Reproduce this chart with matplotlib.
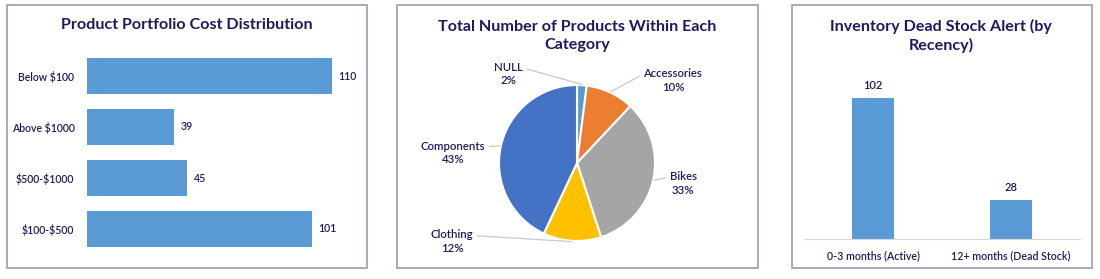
import matplotlib.pyplot as plt
from matplotlib.patches import Rectangle
import numpy as np

plt.rcParams['font.family'] = ['Lato', 'DejaVu Sans']
plt.rcParams['text.parse_math'] = False

# --- data ---
cost_bands = ["Below $100", "Above $1000", "$500-$1000", "$100-$500"]
cost_counts = [110, 39, 45, 101]

categories = ["NULL", "Accessories", "Bikes", "Clothing", "Components"]
category_share = [2, 10, 33, 12, 43]

recency = ["0-3 months (Active)", "12+ months (Dead Stock)"]
recency_counts = [102, 28]

NAVY = "#1b1b5e"
BLUE = "#5b9bd5"
pie_colors = ["#5b9bd5", "#ed7d31", "#a5a5a5", "#ffc000", "#4472c4"]
LBL = dict(color=NAVY, fontweight="semibold")

W, H = 1100, 279
fig = plt.figure(figsize=(W / 100, H / 100), dpi=100)


def px_axes(x0, y0, x1, y1):
    # pixel box (top-left origin) -> figure axes
    return fig.add_axes([x0 / W, 1 - y1 / H, (x1 - x0) / W, (y1 - y0) / H])


def panel_box(x0, y0, x1, y1):
    fig.patches.append(Rectangle((x0 / W, 1 - y1 / H), (x1 - x0) / W, (y1 - y0) / H,
                                 transform=fig.transFigure, fill=False,
                                 edgecolor="#a3a3b8", linewidth=1.3))


def title(xc, yc, s):
    fig.text(xc / W, 1 - yc / H, s, ha="center", va="center", fontsize=11.6,
             fontweight="bold", color=NAVY, linespacing=1.3)


panel_box(7, 5, 367, 268)
panel_box(397, 5, 758, 268)
panel_box(792, 5, 1092, 268)

# --- panel 1: horizontal bars ---
ax1 = px_axes(87, 50.5, 354, 254.5)
y = np.arange(len(cost_bands))
bars = ax1.barh(y, cost_counts, height=0.7, color=BLUE)
ax1.set_xlim(0, 120)
ax1.set_ylim(len(cost_bands) - 0.5, -0.5)
ax1.set_yticks(y)
ax1.set_yticklabels(cost_bands, fontsize=7.6, **LBL)
ax1.tick_params(axis="y", length=0, pad=9)
ax1.set_xticks([])
for s in ax1.spines.values():
    s.set_visible(False)
ax1.bar_label(bars, padding=5, fontsize=7.6, **LBL)
title(187, 25, "Product Portfolio Cost Distribution")

# --- panel 2: pie ---
R = 78
ax2 = px_axes(577 - R, 163 - R, 577 + R, 163 + R)
wedges, _ = ax2.pie(category_share, colors=pie_colors, startangle=90, counterclock=False,
                    radius=1, wedgeprops=dict(edgecolor="white", linewidth=1.5))
ax2.set_xlim(-1, 1)
ax2.set_ylim(-1, 1)
ax2.set_aspect("equal")
# label positions (offsets from pie centre, in radii) and where the leader attaches
label_pos = [(-0.88, 1.14), (1.23, 1.06), (1.36, -0.26), (-1.6, -1.01), (-1.59, 0.13)]
rel = [(1, 0.75), (0, 0.75), (0, 0.75), (1, 0.75), (1, 0.75)]
for w, name, share, pos, rp in zip(wedges, categories, category_share, label_pos, rel):
    ang = np.deg2rad((w.theta1 + w.theta2) / 2)
    edge = (1.01 * np.cos(ang), 1.01 * np.sin(ang))
    ax2.annotate(f"{name}\n{share}%", xy=edge, xytext=pos, ha="center", va="center",
                 fontsize=8.2, linespacing=1.3, annotation_clip=False,
                 arrowprops=dict(arrowstyle="-", color="#c8c8c8", lw=0.9,
                                 relpos=rp, shrinkA=1, shrinkB=0), **LBL)
title(577, 36, "Total Number of Products Within Each\nCategory")

# --- panel 3: vertical bars ---
ax3 = px_axes(804, 73, 1080, 239)
x = np.arange(len(recency))
bars3 = ax3.bar(x, recency_counts, width=0.31, color=BLUE)
ax3.set_xlim(-0.5, 1.5)
ax3.set_ylim(0, 120)
ax3.set_xticks(x)
ax3.set_xticklabels(recency, fontsize=7.7, **LBL)
ax3.tick_params(axis="x", length=0, pad=8)
ax3.set_yticks([])
for k, s in ax3.spines.items():
    s.set_visible(k == "bottom")
ax3.spines["bottom"].set_color("#d9d9d9")
ax3.bar_label(bars3, padding=5, fontsize=8, **LBL)
title(941, 36, "Inventory Dead Stock Alert (by\nRecency)")

fig.savefig("out.png", dpi=100)
